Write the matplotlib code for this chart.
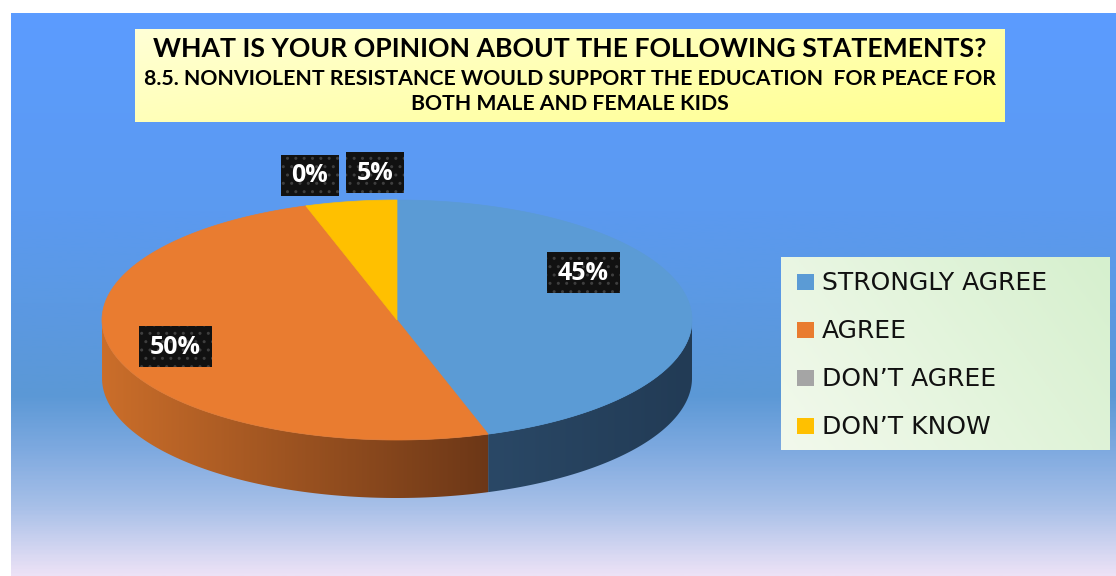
import numpy as np
import matplotlib
matplotlib.use("Agg")
import matplotlib.pyplot as plt
from matplotlib.patches import Polygon, Rectangle
from matplotlib.colors import LinearSegmentedColormap, to_rgb

# ---- data -------------------------------------------------------------
categories = ["STRONGLY AGREE", "AGREE", "DON\u2019T AGREE", "DON\u2019T KNOW"]
shares = [45, 50, 0, 5]
slice_colors = ["#5B9BD5", "#E97C30", "#A5A5A5", "#FFC000"]
title_main = "WHAT IS YOUR OPINION ABOUT THE FOLLOWING STATEMENTS?"
title_sub = ["8.5. NONVIOLENT RESISTANCE WOULD SUPPORT THE EDUCATION  FOR PEACE FOR",
             "BOTH MALE AND FEMALE KIDS"]

# ---- layout (pixel units) --------------------------------------------
W, H = 1116, 576
CX, CY, RX, RY, DEPTH = 397, 320, 295, 120, 58
label_pos = [(583, 272), (175, 346), (310, 175), (375, 172)]

fig = plt.figure(figsize=(W / 100, H / 100), dpi=100)
ax = fig.add_axes([0, 0, 1, 1])
ax.set_xlim(0, W)
ax.set_ylim(H, 0)
ax.axis("off")


def gradient_cmap(stops):
    return LinearSegmentedColormap.from_list("g", [(p, to_rgb(c)) for p, c in stops])


# background panel with vertical gradient
bg_cmap = gradient_cmap([(0.0, "#5C9CFF"), (0.35, "#5B9AF0"), (0.68, "#5B98D6"),
                         (0.78, "#7FAAE0"), (0.88, "#A8C0E8"), (1.0, "#ECE2F6")])
grad = np.linspace(0, 1, 400)[:, None]
ax.imshow(grad, cmap=bg_cmap, extent=(11, W, H, 13), aspect="auto", zorder=0,
          interpolation="bilinear")


def ellipse_pts(t0, t1, n=200, dy=0.0):
    t = np.radians(np.linspace(t0, t1, n))
    return np.column_stack([CX + RX * np.cos(t), CY - RY * np.sin(t) + dy])


# slice angles, clockwise from 12 o'clock
starts, ends = [], []
a = 90.0
for v in shares:
    starts.append(a)
    a -= v * 3.6
    ends.append(a)

# visible side walls (front half of the disc)
side_styles = {0: ("#2A4866", "#223B55"), 1: ("#CB6E2A", "#6C3717"),
               2: ("#7C7C7C", "#5A5A5A"), 3: ("#BF9000", "#9A7400")}
for i, (s, e) in enumerate(zip(starts, ends)):
    if s == e:
        continue
    vis_lo = max(e, -180.0)
    vis_hi = min(s, 0.0)
    if vis_hi <= vis_lo:
        continue
    top = ellipse_pts(vis_lo, vis_hi)
    bot = ellipse_pts(vis_hi, vis_lo, dy=DEPTH)
    poly = Polygon(np.vstack([top, bot]), closed=True, facecolor="none",
                   edgecolor="none", zorder=2)
    ax.add_patch(poly)
    xmin, xmax = top[:, 0].min(), top[:, 0].max()
    c0, c1 = side_styles[i]
    img = ax.imshow(np.linspace(0, 1, 300)[None, :], cmap=gradient_cmap([(0, c0), (1, c1)]),
                    extent=(xmin - 1, xmax + 1, CY + RY + DEPTH + 5, CY - 5), aspect="auto",
                    zorder=2, interpolation="bilinear")
    img.set_clip_path(poly)

# top faces
for i, (s, e) in enumerate(zip(starts, ends)):
    if s == e:
        continue
    pts = np.vstack([[CX, CY], ellipse_pts(s, e)])
    ax.add_patch(Polygon(pts, closed=True, facecolor=slice_colors[i],
                         edgecolor=slice_colors[i], lw=0.5, zorder=3))

# data labels
for (x, y), v in zip(label_pos, shares):
    txt = f"{v}%"
    w = 73 if len(txt) == 3 else 58
    ax.add_patch(Rectangle((x - w / 2, y - 20.5), w, 41, facecolor="#111111",
                           edgecolor="#3E3E3E", hatch="..", lw=0, zorder=5))
    ax.text(x, y + 1, txt, color="white", fontsize=18, fontweight="bold",
            family="Open Sans", ha="center", va="center", zorder=6)

# title box
tb = Rectangle((135, 29), 870, 93, facecolor="none", edgecolor="none", zorder=4)
ax.add_patch(tb)
yy, xx = np.mgrid[0:1:50j, 0:1:200j]
tg = ax.imshow(0.6 * xx + 0.4 * yy, cmap=gradient_cmap([(0, "#FFFFD6"), (1, "#FFFF8E")]),
               extent=(135, 1005, 122, 29), aspect="auto", zorder=4, interpolation="bilinear")
tg.set_clip_path(tb)
ax.text(570, 49, title_main, fontsize=19.2, fontweight="bold", family="Lato",
        ha="center", va="center", zorder=6)
ax.text(570, 79, title_sub[0], fontsize=15.3, fontweight="bold", family="Lato",
        ha="center", va="center", zorder=6)
ax.text(570, 104, title_sub[1], fontsize=15.3, fontweight="bold", family="Lato",
        ha="center", va="center", zorder=6)

# legend box
lb = Rectangle((781, 257), 329, 193, facecolor="none", edgecolor="none", zorder=4)
ax.add_patch(lb)
lg = ax.imshow(0.7 * xx + 0.3 * (1 - yy), cmap=gradient_cmap([(0, "#F2F9EC"), (1, "#D6F0CE")]),
               extent=(781, 1110, 450, 257), aspect="auto", zorder=4, interpolation="bilinear")
lg.set_clip_path(lb)
for k, (name, col) in enumerate(zip(categories, slice_colors)):
    y = 282 + k * 48
    ax.add_patch(Rectangle((797, y - 8), 17, 16, facecolor=col, edgecolor="none", zorder=5))
    ax.text(822, y + 1, name, fontsize=18, family="DejaVu Sans", ha="left", va="center",
            color="#111111", zorder=6)

fig.savefig("out.png", dpi=100)
